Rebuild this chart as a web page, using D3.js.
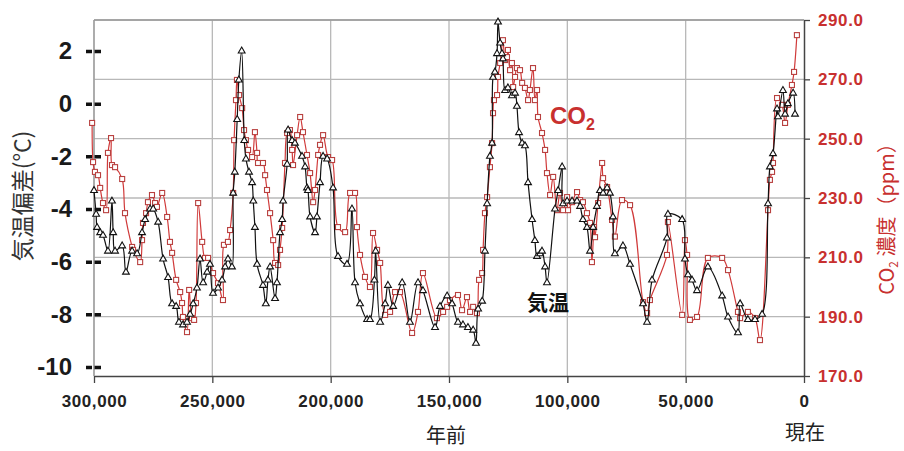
<!DOCTYPE html>
<html>
<head>
<meta charset="utf-8">
<script src="https://cdn.jsdelivr.net/npm/d3@7"></script>
<style>
  body { margin: 0; background: #fff; }
  text { font-family: "Liberation Sans", Arial, sans-serif; }
  .jp { font-family: "Noto Sans CJK JP", sans-serif; }
</style>
</head>
<body>
<script>
// years before present, in thousands
var tempKyr = [300.0, 299.1, 298.7, 297.4, 296.2, 294.1, 292.4, 291.9, 291.1, 288.1, 286.5, 283.9, 281.8, 279.7, 278.4, 276.3, 275.0, 272.9, 270.8, 268.7,
  267.0, 265.3, 264.1, 262.4, 260.7, 259.4, 258.1, 256.5, 255.2, 253.9, 252.2, 251.0, 249.7, 247.6, 245.9, 244.6, 243.4, 241.7, 241.2, 240.5,
  239.5, 238.8, 237.6, 236.5, 235.8, 234.5, 233.2, 232.7, 232.0, 231.1, 228.6, 227.4, 226.5, 225.6, 223.5, 222.7, 221.4, 220.5, 220.1, 218.4,
  218.0, 216.3, 215.1, 212.1, 210.8, 210.0, 209.6, 208.7, 206.6, 205.8, 204.5, 203.2, 201.5, 199.0, 196.9, 193.1, 191.0, 189.7, 187.6, 184.6,
  183.4, 181.5, 181.0, 179.1, 177.0, 175.8, 173.6, 169.8, 166.5, 163.1, 161.0, 155.9, 153.8, 150.8, 148.7, 146.2, 144.1, 142.0, 139.8, 138.6,
  137.7, 136.0, 134.8, 133.9, 132.7, 131.8, 131.4, 130.6, 129.7, 129.3, 128.4, 127.6, 127.2, 126.3, 125.1, 123.4, 122.1, 121.3, 120.4, 119.1,
  117.9, 116.6, 114.9, 113.7, 112.8, 111.5, 110.7, 109.4, 108.6, 105.2, 103.9, 102.2, 101.8, 100.1, 98.0, 95.9, 94.6, 93.4, 91.7, 90.4,
  89.1, 87.5, 86.2, 84.9, 83.2, 82.0, 80.7, 79.9, 76.5, 73.5, 68.0, 66.3, 64.2, 57.9, 57.5, 51.5, 50.3, 49.0, 47.3, 45.2,
  40.6, 34.6, 32.1, 27.9, 27.0, 23.7, 20.7, 17.7, 15.2, 14.4, 13.1, 11.4, 11.0, 8.9, 8.0, 6.8, 4.6, 3.8];
var tempDev = [-3.3, -4.2, -4.7, -4.9, -5.0, -5.6, -3.7, -4.9, -5.6, -5.4, -6.4, -5.6, -5.7, -4.9, -4.4, -4.0, -4.0, -4.5, -5.9, -6.6,
  -7.6, -7.7, -8.3, -8.4, -8.3, -8.0, -7.6, -7.0, -5.9, -6.8, -6.4, -6.1, -7.2, -7.0, -6.7, -6.2, -5.9, -6.2, -3.4, -2.6,
  -0.6, 0.9, 2.0, -1.4, -2.1, -2.6, -3.0, -3.7, -4.7, -6.1, -6.9, -7.6, -6.7, -6.2, -7.4, -6.8, -4.9, -4.4, -3.7, -2.3,
  -1.0, -1.4, -1.5, -2.0, -2.4, -3.2, -3.3, -4.3, -4.9, -4.3, -3.0, -2.0, -2.1, -3.2, -5.8, -6.1, -4.0, -6.8, -7.6, -8.2,
  -8.2, -6.7, -5.6, -8.3, -7.6, -6.9, -7.7, -6.8, -8.3, -6.8, -7.1, -8.5, -7.7, -7.3, -7.6, -8.3, -8.4, -8.5, -8.6, -9.1,
  -7.8, -7.5, -5.6, -3.8, -2.0, -1.5, 1.0, 1.2, 1.9, 3.1, 2.3, 1.9, 1.7, 0.5, 0.6, 0.3, 0.4, -0.1, -1.1, -1.5,
  -1.6, -3.0, -4.4, -5.2, -5.8, -5.7, -5.6, -6.2, -6.8, -4.0, -3.3, -2.4, -3.8, -3.7, -3.7, -3.7, -3.9, -4.4, -4.7, -5.6,
  -4.7, -3.9, -3.3, -3.4, -3.2, -3.4, -4.3, -5.7, -5.4, -6.1, -7.6, -8.3, -6.7, -5.1, -4.2, -4.4, -5.9, -6.5, -6.7, -7.1,
  -6.2, -7.3, -8.1, -8.7, -7.6, -8.2, -8.2, -8.0, -3.8, -2.4, -1.9, -0.2, -0.5, 0.5, -0.4, 0.0, 0.4, -0.4];

var co2Kyr = [300.8, 300.4, 299.6, 298.3, 297.4, 296.2, 294.9, 294.1, 292.8, 292.4, 291.1, 288.1, 286.9, 283.9, 283.5, 280.5, 279.7, 279.3, 278.0, 277.2,
  275.5, 274.2, 273.4, 271.2, 269.1, 267.9, 267.0, 265.3, 263.6, 262.8, 262.4, 260.7, 259.8, 258.6, 257.7, 256.9, 256.0, 254.3, 253.1, 251.8,
  249.7, 247.6, 245.5, 245.1, 243.4, 242.5, 241.2, 240.8, 240.0, 239.6, 238.7, 237.4, 236.6, 235.8, 234.9, 233.2, 232.0, 231.1, 230.7, 228.6,
  227.7, 226.9, 225.6, 224.3, 223.5, 222.2, 221.4, 220.5, 219.3, 218.4, 217.2, 216.3, 215.9, 214.2, 212.9, 211.7, 210.0, 208.7, 207.4, 206.6,
  205.3, 204.5, 203.2, 201.1, 199.4, 196.9, 193.9, 191.8, 189.7, 188.9, 187.6, 185.5, 183.4, 182.1, 180.4, 179.1, 177.0, 174.9, 172.8, 170.7,
  165.6, 163.1, 161.0, 155.1, 152.5, 150.8, 149.6, 146.2, 144.5, 142.4, 141.1, 139.8, 138.2, 137.3, 136.0, 135.6, 134.8, 133.9, 132.7, 131.8,
  131.4, 131.0, 129.7, 129.3, 128.4, 127.2, 126.3, 125.5, 125.1, 124.2, 123.4, 122.9, 122.1, 121.3, 120.0, 119.1, 117.9, 116.6, 115.8, 114.5,
  113.7, 112.8, 112.4, 110.7, 109.4, 108.6, 107.3, 106.0, 104.4, 103.1, 101.8, 100.1, 99.7, 98.0, 95.9, 94.6, 93.4, 91.7, 90.4, 89.6,
  88.7, 88.3, 87.0, 85.3, 84.9, 83.2, 81.1, 79.9, 76.9, 73.5, 68.0, 66.3, 65.1, 57.9, 57.5, 51.5, 50.3, 49.4, 48.2, 45.2,
  40.6, 34.6, 32.1, 27.9, 27.0, 23.7, 20.7, 18.6, 15.2, 14.4, 13.5, 13.1, 11.4, 9.3, 8.0, 6.8, 5.1, 4.2, 3.0];
var co2Ppm = [255.3, 242.1, 238.8, 237.7, 233.4, 228.3, 225.9, 245.2, 250.2, 241.1, 240.4, 236.4, 224.9, 213.5, 212.5, 208.4, 215.8, 221.6, 224.9, 228.6,
  231.0, 228.3, 227.0, 231.7, 223.6, 215.2, 211.5, 202.4, 198.3, 194.6, 189.9, 184.8, 199.0, 189.5, 188.9, 194.6, 228.3, 215.2, 209.8, 209.8,
  204.7, 201.3, 195.6, 214.2, 215.2, 219.2, 231.7, 249.5, 263.0, 269.8, 264.7, 260.3, 252.9, 249.5, 246.2, 243.8, 252.2, 245.2, 241.8, 241.8,
  237.7, 232.7, 224.9, 215.8, 208.1, 207.4, 212.5, 219.9, 241.8, 251.9, 252.9, 246.2, 241.1, 251.2, 257.3, 252.2, 244.5, 238.4, 228.6, 232.7,
  244.5, 247.9, 251.2, 243.8, 242.8, 220.2, 218.5, 231.7, 231.7, 220.2, 210.8, 203.4, 200.0, 218.2, 212.5, 208.1, 190.6, 191.6, 198.3, 198.3,
  184.5, 191.6, 204.7, 189.5, 191.6, 193.3, 195.6, 197.3, 192.2, 196.6, 191.6, 193.3, 191.2, 202.4, 204.7, 212.5, 224.9, 230.3, 240.4, 248.5,
  258.6, 263.0, 264.7, 270.8, 275.5, 283.2, 276.5, 277.5, 279.9, 273.1, 275.5, 267.4, 270.8, 273.8, 273.1, 268.8, 267.1, 263.0, 266.4, 273.8,
  263.0, 266.4, 257.3, 251.9, 246.2, 238.4, 231.0, 237.1, 225.9, 231.7, 225.9, 230.3, 225.9, 228.6, 232.0, 229.3, 228.6, 224.9, 221.6, 208.4,
  220.2, 216.8, 228.3, 241.8, 236.7, 233.7, 222.6, 217.0, 229.3, 227.6, 194.9, 191.2, 195.6, 210.8, 221.9, 190.6, 215.8, 210.8, 188.9, 189.9,
  209.8, 209.8, 205.7, 191.6, 189.5, 191.6, 189.5, 182.1, 225.9, 236.1, 238.8, 241.8, 263.7, 261.4, 255.3, 261.4, 268.1, 272.5, 284.9];

var xTicks = [300, 250, 200, 150, 100, 50, 0];
var xTickLabels = ["300,000", "250,000", "200,000", "150,000", "100,000", "50,000", "0"];
var tempTicks = [2, 0, -2, -4, -6, -8, -10];
var co2Ticks = [170, 190, 210, 230, 250, 270, 290];

var w = 904, h = 451;
var red = "#c8302f";

var svg = d3.select("body").append("svg")
    .attr("width", w)
    .attr("height", h)
    .style("background", "#fff");

var x = d3.scaleLinear().domain([300, 0]).range([94, 804]);
var yT = d3.scaleLinear().domain([-10, 2]).range([367, 51]);
var yC = d3.scaleLinear().domain([170, 290]).range([376, 20]);

// grid
svg.append("g").selectAll("line.v")
  .data(xTicks.slice(0, 6))
  .enter().append("line")
    .attr("x1", function(d) { return x(d); })
    .attr("x2", function(d) { return x(d); })
    .attr("y1", yC(290)).attr("y2", yC(170))
    .attr("stroke", "#b8b8b8").attr("stroke-width", 1.3);

svg.append("g").selectAll("line.h")
  .data(co2Ticks.slice(1))
  .enter().append("line")
    .attr("x1", x(300)).attr("x2", x(0))
    .attr("y1", function(d) { return yC(d); })
    .attr("y2", function(d) { return yC(d); })
    .attr("stroke", "#b8b8b8").attr("stroke-width", 1.3);

// bottom axis
var xAxis = svg.append("g")
    .attr("transform", "translate(0," + yC(170) + ")")
    .call(d3.axisBottom(x).tickValues(xTicks)
      .tickFormat(function(d, i) { return xTickLabels[i]; })
      .tickSize(7).tickSizeOuter(0).tickPadding(12));
xAxis.select(".domain").attr("stroke", "#444").attr("stroke-width", 1.5);
xAxis.selectAll(".tick line").attr("stroke", "#444").attr("stroke-width", 1.3);
xAxis.selectAll("text")
    .attr("fill", "#222").style("font-size", "17px").style("font-weight", "bold")
    .style("letter-spacing", "0.6px");

// right axis
var rAxis = svg.append("g")
    .attr("transform", "translate(" + x(0) + ",0)")
    .call(d3.axisRight(yC).tickValues(co2Ticks)
      .tickFormat(function(d) { return d.toFixed(1); }).tickSize(6).tickSizeOuter(0).tickPadding(8));
rAxis.select(".domain").attr("stroke", "#444").attr("stroke-width", 1.5);
rAxis.selectAll(".tick line").attr("stroke", "#444").attr("stroke-width", 1.3);
rAxis.selectAll("text")
    .attr("fill", red).style("font-size", "17px").style("font-weight", "bold")
    .style("letter-spacing", "0.6px");

// left axis (dash style ticks)
var lAxis = svg.append("g")
    .attr("transform", "translate(101,0)")
    .call(d3.axisLeft(yT).tickValues(tempTicks)
      .tickFormat(function(d) { return String(d); }).tickSize(15).tickPadding(14));
lAxis.select(".domain").remove();
lAxis.selectAll(".tick line").attr("stroke", "#111").attr("stroke-width", 3.5)
    .attr("stroke-dasharray", "7,2");
lAxis.selectAll("text")
    .attr("fill", "#1a1a1a").style("font-size", "24px").style("font-weight", "bold");

// plot frame (top and left)
svg.append("line").attr("x1", x(300)).attr("x2", x(0)).attr("y1", yC(290)).attr("y2", yC(290))
    .attr("stroke", "#999").attr("stroke-width", 1.3);
svg.append("line").attr("x1", x(300)).attr("x2", x(300)).attr("y1", yC(290)).attr("y2", yC(170))
    .attr("stroke", "#999").attr("stroke-width", 1.3);

// series
var co2Data = co2Kyr.map(function(k, i) { return {k: k, v: co2Ppm[i]}; });
var tempData = tempKyr.map(function(k, i) { return {k: k, v: tempDev[i]}; });

var co2Line = d3.line()
    .x(function(d) { return x(d.k); })
    .y(function(d) { return yC(d.v); })
    .curve(d3.curveCatmullRom.alpha(0.5));
var tempLine = d3.line()
    .x(function(d) { return x(d.k); })
    .y(function(d) { return yT(d.v); })
    .curve(d3.curveCatmullRom.alpha(0.5));

svg.append("path").datum(co2Data)
    .attr("d", co2Line).attr("fill", "none")
    .attr("stroke", "#d03a3a").attr("stroke-width", 1.2);
svg.append("g").selectAll("rect")
  .data(co2Data)
  .enter().append("rect")
    .attr("x", function(d) { return x(d.k) - 2.5; })
    .attr("y", function(d) { return yC(d.v) - 2.5; })
    .attr("width", 5).attr("height", 5)
    .attr("fill", "#fff").attr("stroke", "#b8403f").attr("stroke-width", 1.1);

svg.append("path").datum(tempData)
    .attr("d", tempLine).attr("fill", "none")
    .attr("stroke", "#111").attr("stroke-width", 1.2);
svg.append("g").selectAll("path.tri")
  .data(tempData)
  .enter().append("path")
    .attr("transform", function(d) { return "translate(" + x(d.k) + "," + yT(d.v) + ")"; })
    .attr("d", d3.symbol().type(d3.symbolTriangle).size(20))
    .attr("fill", "#fff").attr("stroke", "#111").attr("stroke-width", 1.1);

// labels
svg.append("text").attr("class", "jp")
    .attr("transform", "translate(31,196) rotate(-90)")
    .attr("text-anchor", "middle")
    .attr("fill", "#333").style("font-size", "23px")
    .text("気温偏差(°C)");

var rt = svg.append("text").attr("class", "jp")
    .attr("transform", "translate(894,214) rotate(-90)")
    .attr("text-anchor", "middle")
    .attr("fill", red).style("font-size", "20px");
rt.append("tspan").text("CO");
rt.append("tspan").attr("dy", 4).style("font-size", "12px").text("2");
rt.append("tspan").attr("dy", -4).text(" 濃度（ppm）");

svg.append("text").attr("class", "jp")
    .attr("x", 446).attr("y", 443).attr("text-anchor", "middle")
    .attr("fill", "#222").style("font-size", "20px").text("年前");
svg.append("text").attr("class", "jp")
    .attr("x", 805).attr("y", 440).attr("text-anchor", "middle")
    .attr("fill", "#222").style("font-size", "20px").text("現在");

var cl = svg.append("text")
    .attr("x", 550).attr("y", 124)
    .attr("fill", red).style("font-size", "24px").style("font-weight", "bold");
cl.append("tspan").text("CO");
cl.append("tspan").attr("dy", 6).style("font-size", "16px").text("2");

svg.append("text").attr("class", "jp")
    .attr("x", 548).attr("y", 310).attr("text-anchor", "middle")
    .attr("fill", "#111").style("font-size", "21px").style("font-weight", "bold")
    .text("気温");
</script>
</body>
</html>
